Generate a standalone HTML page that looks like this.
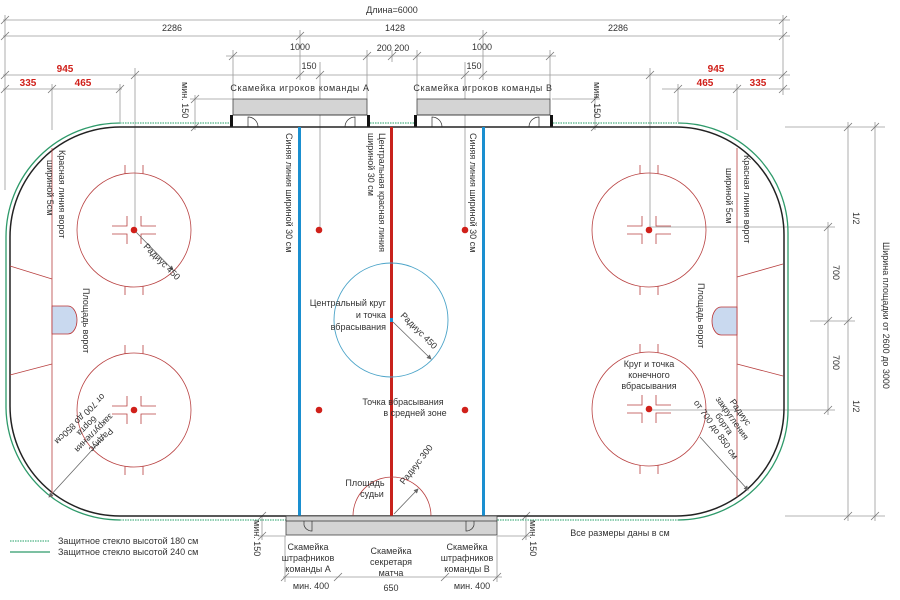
<!DOCTYPE html>
<html><head><meta charset="utf-8"><style>
html,body{margin:0;padding:0;background:#fff;width:900px;height:600px;overflow:hidden}
svg{display:block}
text{font-family:"Liberation Sans",sans-serif;font-size:9px;fill:#333}
.r{fill:#d0201a;font-weight:bold;font-size:10px}
.d{stroke:#9a9a9a;stroke-width:0.8;fill:none}
.t{stroke:#777;stroke-width:0.8}
.rl{stroke:#b84040;stroke-width:0.8;fill:none}
</style></head><body>
<svg width="900" height="600" viewBox="0 0 900 600" xmlns="http://www.w3.org/2000/svg">
<defs><marker id="ar" markerWidth="6" markerHeight="6" refX="5" refY="3" orient="auto"><path d="M0,0 L6,3 L0,6z" fill="#666"/></marker>
<g id="h" class="rl">
<path d="M-9,-56 v-9 M9,-56 v-9 M-9,56 v9 M9,56 v9"/>
<path d="M-22,-4 H-7 V-14 M-22,4 H-7 V14 M22,-4 H7 V-14 M22,4 H7 V14"/>
</g>
</defs>
<g class="d">
<line x1="3" y1="20" x2="790" y2="20"/>
<line x1="3" y1="36" x2="790" y2="36"/>
<line x1="226" y1="56" x2="556" y2="56"/>
<line x1="3" y1="75" x2="790" y2="75"/>
<line x1="3" y1="89" x2="122" y2="89"/>
<line x1="662" y1="89" x2="790" y2="89"/>
<line x1="5" y1="15" x2="5" y2="190"/>
<line x1="783" y1="15" x2="783" y2="95"/>
<line x1="135" y1="68" x2="135" y2="230"/>
<line x1="650" y1="68" x2="650" y2="230"/>
<line x1="52" y1="84" x2="52" y2="130"/>
<line x1="737" y1="84" x2="737" y2="130"/>
<line x1="120" y1="84" x2="120" y2="122"/>
<line x1="678" y1="84" x2="678" y2="122"/>
<line x1="300" y1="30" x2="300" y2="80"/>
<line x1="483" y1="30" x2="483" y2="80"/>
<line x1="320" y1="62" x2="320" y2="230"/>
<line x1="465" y1="62" x2="465" y2="230"/>
<line x1="233" y1="50" x2="233" y2="99"/>
<line x1="367" y1="50" x2="367" y2="99"/>
<line x1="392" y1="50" x2="392" y2="62"/>
<line x1="417" y1="50" x2="417" y2="99"/>
<line x1="550" y1="50" x2="550" y2="99"/>
<line x1="195" y1="95" x2="195" y2="130"/>
<line x1="190" y1="99" x2="233" y2="99"/>
<line x1="595" y1="95" x2="595" y2="130"/>
<line x1="552" y1="99" x2="600" y2="99"/>
<line x1="785" y1="127" x2="885" y2="127"/>
<line x1="785" y1="516" x2="885" y2="516"/>
<line x1="810" y1="321" x2="855" y2="321"/>
<line x1="650" y1="227" x2="835" y2="227"/>
<line x1="650" y1="410" x2="835" y2="410"/>
<line x1="828" y1="222" x2="828" y2="415"/>
<line x1="848" y1="122" x2="848" y2="521"/>
<line x1="875" y1="122" x2="875" y2="521"/>
<line x1="262" y1="516" x2="262" y2="540"/>
<line x1="526" y1="516" x2="526" y2="540"/>
<line x1="258" y1="536" x2="286" y2="536"/>
<line x1="497" y1="536" x2="530" y2="536"/>
<line x1="283" y1="577" x2="502" y2="577"/>
<line x1="285" y1="536" x2="285" y2="582"/>
<line x1="497" y1="536" x2="497" y2="582"/>
</g>
<g class="t">
<path d="M1,24 l8,-8 M1,40 l8,-8 M779,24 l8,-8 M779,40 l8,-8 M296,40 l8,-8 M479,40 l8,-8 M229,60 l8,-8 M363,60 l8,-8 M388,60 l8,-8 M413,60 l8,-8 M546,60 l8,-8 M1,79 l8,-8 M779,79 l8,-8 M131,79 l8,-8 M646,79 l8,-8 M296,79 l8,-8 M316,79 l8,-8 M461,79 l8,-8 M479,79 l8,-8 M1,93 l8,-8 M48,93 l8,-8 M116,93 l8,-8 M674,93 l8,-8 M733,93 l8,-8 M779,93 l8,-8 M191,103 l8,-8 M191,131 l8,-8 M591,103 l8,-8 M591,131 l8,-8 M824,231 l8,-8 M824,325 l8,-8 M824,414 l8,-8 M844,131 l8,-8 M844,325 l8,-8 M844,520 l8,-8 M871,131 l8,-8 M871,520 l8,-8 M258,520 l8,-8 M258,540 l8,-8 M522,520 l8,-8 M522,540 l8,-8 M281,581 l8,-8 M334,581 l8,-8 M441,581 l8,-8 M493,581 l8,-8"/>
</g>
<text x="392" y="13" text-anchor="middle">Длина=6000</text>
<text x="172" y="31" text-anchor="middle">2286</text>
<text x="395" y="31" text-anchor="middle">1428</text>
<text x="618" y="31" text-anchor="middle">2286</text>
<text x="300" y="50" text-anchor="middle">1000</text>
<text x="393" y="51" text-anchor="middle">200 200</text>
<text x="482" y="50" text-anchor="middle">1000</text>
<text x="309" y="69" text-anchor="middle">150</text>
<text x="474" y="69" text-anchor="middle">150</text>
<text class="r" x="65" y="72" text-anchor="middle">945</text>
<text class="r" x="716" y="72" text-anchor="middle">945</text>
<text class="r" x="28" y="86" text-anchor="middle">335</text>
<text class="r" x="83" y="86" text-anchor="middle">465</text>
<text class="r" x="705" y="86" text-anchor="middle">465</text>
<text class="r" x="758" y="86" text-anchor="middle">335</text>
<text x="300" y="91" text-anchor="middle" letter-spacing="0.6">Скамейка игроков команды А</text>
<text x="483" y="91" text-anchor="middle" letter-spacing="0.6">Скамейка игроков команды В</text>
<text transform="translate(182,82) rotate(90)">мин. 150</text>
<text transform="translate(594,82) rotate(90)">мин. 150</text>
<rect x="233" y="99" width="134" height="16" fill="#d4d4d4" stroke="#444" stroke-width="0.8"/>
<rect x="417" y="99" width="133" height="16" fill="#d4d4d4" stroke="#444" stroke-width="0.8"/>
<rect x="230" y="115" width="3" height="12" fill="#111"/><rect x="367" y="115" width="3" height="12" fill="#111"/>
<rect x="414" y="115" width="3" height="12" fill="#111"/><rect x="550" y="115" width="3" height="12" fill="#111"/>
<g fill="none" stroke="#333" stroke-width="0.7">
<path d="M248,127 v-10 a10,10 0 0 1 10,10"/><path d="M355,127 v-10 a10,10 0 0 0 -10,10"/>
<path d="M432,127 v-10 a10,10 0 0 1 10,10"/><path d="M539,127 v-10 a10,10 0 0 0 -10,10"/>
<line x1="233" y1="115" x2="367" y2="115"/><line x1="417" y1="115" x2="550" y2="115"/>
</g>
<g fill="none" stroke="#2e9a6a" stroke-width="1.3">
<path d="M120,123 A114,114 0 0 0 6,237 V408 A114,114 0 0 0 120,520"/>
<path d="M678,123 A110,110 0 0 1 788,233 V410 A110,110 0 0 1 678,520"/>
</g>
<g fill="none" stroke="#6cc09a" stroke-width="1.5" stroke-dasharray="1.5,1">
<line x1="120" y1="123" x2="230" y2="123"/><line x1="370" y1="123" x2="414" y2="123"/><line x1="553" y1="123" x2="678" y2="123"/>
<line x1="120" y1="520" x2="678" y2="520"/>
</g>
<path d="M120,127 H676 A108,108 0 0 1 784,235 V408 A108,108 0 0 1 676,516 H120 A110,110 0 0 1 10,406 V237 A110,110 0 0 1 120,127 Z" fill="none" stroke="#222" stroke-width="1.5"/>
<g class="rl">
<line x1="52" y1="148" x2="52" y2="497"/><line x1="737" y1="148" x2="737" y2="497"/>
<path d="M52,279 L10,266 M52,364 L10,375 M737,277 L783,264 M737,364 L783,376"/>
</g>
<path d="M52,306 H68 A9,14 0 0 1 68,334 H52 Z" fill="#c9d9ef" stroke="#b33" stroke-width="0.8"/>
<path d="M737,307 H721 A9,14 0 0 0 721,335 H737 Z" fill="#c9d9ef" stroke="#b33" stroke-width="0.8"/>
<rect x="298" y="127" width="3" height="389" fill="#1a8fd0"/>
<rect x="482" y="127" width="3" height="389" fill="#1a8fd0"/>
<rect x="390" y="127" width="3" height="389" fill="#c8221c"/>
<circle cx="391" cy="320" r="57" fill="none" stroke="#4aa3c8" stroke-width="0.9"/>
<rect x="390" y="318" width="3" height="4" fill="#1a8fd0"/>
<path d="M353,516 A39,39 0 0 1 431,516" class="rl"/>
<g class="rl">
<circle cx="134" cy="230" r="57"/><circle cx="134" cy="410" r="57"/>
<circle cx="649" cy="230" r="57"/><circle cx="649" cy="409" r="57"/>
</g>
<use href="#h" transform="translate(134,230)"/>
<use href="#h" transform="translate(134,410)"/>
<use href="#h" transform="translate(649,230)"/>
<use href="#h" transform="translate(649,409)"/>
<g fill="#d0201a">
<circle cx="134" cy="230" r="3.3"/><circle cx="134" cy="410" r="3.3"/><circle cx="649" cy="230" r="3.3"/><circle cx="649" cy="409" r="3.3"/>
<circle cx="319" cy="230" r="3.3"/><circle cx="465" cy="230" r="3.3"/><circle cx="319" cy="410" r="3.3"/><circle cx="465" cy="410" r="3.3"/>
</g>
<g stroke="#666" stroke-width="0.8" marker-end="url(#ar)">
<line x1="136" y1="232" x2="173" y2="270"/>
<line x1="393" y1="322" x2="431" y2="359"/>
<line x1="394" y1="514" x2="418" y2="489"/>
<line x1="104" y1="437" x2="49" y2="497"/>
<line x1="700" y1="437" x2="748" y2="490"/>
</g>
<text transform="translate(286,133) rotate(90)">Синяя линия шириной 30 см</text>
<text transform="translate(470,133) rotate(90)">Синяя линия шириной 30 см</text>
<text transform="translate(379,133) rotate(90)">Центральная красная линия</text>
<text transform="translate(368,133) rotate(90)">шириной 30 см</text>
<text transform="translate(59,150) rotate(90)">Красная линия ворот</text>
<text transform="translate(47,160) rotate(90)">шириной 5см</text>
<text transform="translate(744,155) rotate(90)">Красная линия ворот</text>
<text transform="translate(726,168) rotate(90)">шириной 5см</text>
<text transform="translate(83,288) rotate(90)">Площадь ворот</text>
<text transform="translate(698,283) rotate(90)">Площадь ворот</text>
<text transform="translate(143,247) rotate(45)">Радиус 450</text>
<text transform="translate(400,316) rotate(45)">Радиус 450</text>
<text transform="translate(404,485) rotate(-52)">Радиус 300</text>
<text transform="translate(99,438) rotate(135)" text-anchor="middle"><tspan x="0" y="0">Радиус</tspan><tspan x="0" dy="10">закругления</tspan><tspan x="0" dy="10">борта</tspan><tspan x="0" dy="10">от 700 до 850см</tspan></text>
<text transform="translate(738,414) rotate(55)" text-anchor="middle"><tspan x="0" y="0">Радиус</tspan><tspan x="0" dy="10">закругления</tspan><tspan x="0" dy="10">борта</tspan><tspan x="0" dy="10">от 700 до 850 см</tspan></text>
<text transform="translate(853,212) rotate(90)">1/2</text>
<text transform="translate(853,400) rotate(90)">1/2</text>
<text transform="translate(833,265) rotate(90)">700</text>
<text transform="translate(833,355) rotate(90)">700</text>
<text transform="translate(883,242) rotate(90)" font-size="10">Ширина площадки от 2600 до 3000</text>
<text transform="translate(254,520) rotate(90)">мин. 150</text>
<text transform="translate(530,520) rotate(90)">мин. 150</text>
<text x="386" y="306" text-anchor="end">Центральный круг</text>
<text x="386" y="318" text-anchor="end">и точка</text>
<text x="386" y="330" text-anchor="end">вбрасывания</text>
<text x="403" y="405" text-anchor="middle">Точка вбрасывания</text>
<text x="415" y="416" text-anchor="middle">в средней зоне</text>
<text x="365" y="486" text-anchor="middle">Площадь</text>
<text x="372" y="497" text-anchor="middle">судьи</text>
<text x="649" y="367" text-anchor="middle">Круг и точка</text>
<text x="649" y="378" text-anchor="middle">конечного</text>
<text x="649" y="389" text-anchor="middle">вбрасывания</text>
<rect x="286" y="516" width="211" height="19" fill="#d4d4d4" stroke="#444" stroke-width="0.8"/>
<g fill="none" stroke="#333" stroke-width="0.7">
<path d="M286,521 H497"/><path d="M304,521 v4 a8,8 0 0 0 8,6 v-10"/><path d="M474,521 v4 a8,8 0 0 1 -8,6 v-10"/>
</g>
<text x="308" y="550" text-anchor="middle">Скамейка</text>
<text x="308" y="561" text-anchor="middle">штрафников</text>
<text x="308" y="572" text-anchor="middle">команды А</text>
<text x="391" y="554" text-anchor="middle">Скамейка</text>
<text x="391" y="565" text-anchor="middle">секретаря</text>
<text x="391" y="576" text-anchor="middle">матча</text>
<text x="467" y="550" text-anchor="middle">Скамейка</text>
<text x="467" y="561" text-anchor="middle">штрафников</text>
<text x="467" y="572" text-anchor="middle">команды В</text>
<text x="311" y="589" text-anchor="middle" font-size="8.5">мин. 400</text>
<text x="391" y="591" text-anchor="middle">650</text>
<text x="472" y="589" text-anchor="middle" font-size="8.5">мин. 400</text>
<text x="620" y="536" text-anchor="middle">Все размеры даны в см</text>
<line x1="10" y1="541" x2="50" y2="541" stroke="#6cc09a" stroke-width="1.5" stroke-dasharray="1.5,1"/>
<line x1="10" y1="552" x2="50" y2="552" stroke="#2e9a6a" stroke-width="1.3"/>
<text x="58" y="544" font-size="8.5">Защитное стекло высотой 180 см</text>
<text x="58" y="555" font-size="8.5">Защитное стекло высотой 240 см</text>
</svg>
</body></html>
